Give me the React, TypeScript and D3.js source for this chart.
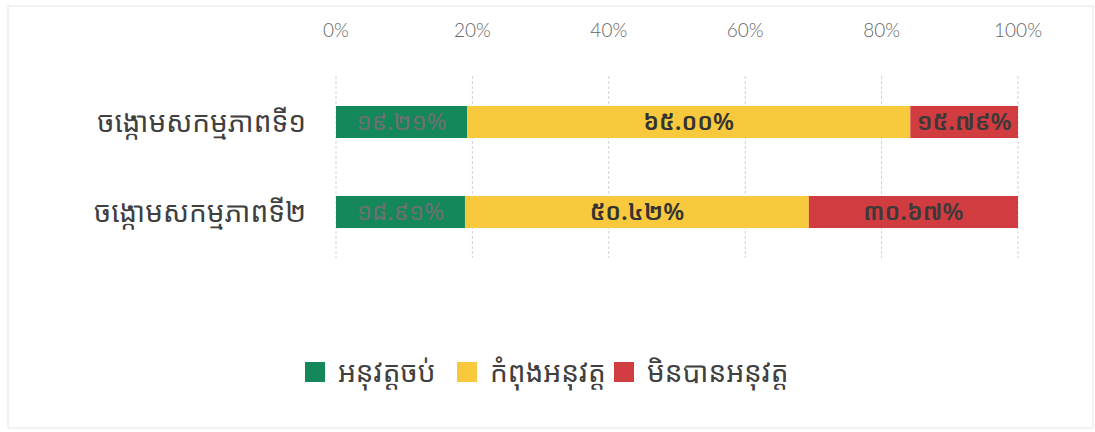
import React from 'react'
import * as d3 from 'd3'

// data
const categories = ['ចង្កោមសកម្មភាពទី១', 'ចង្កោមសកម្មភាពទី២']
const seriesNames = ['អនុវត្តចប់', 'កំពុងអនុវត្ត', 'មិនបានអនុវត្ត']
const done = [19.21, 18.91]
const inProgress = [65.0, 50.42]
const notDone = [15.79, 30.67]
const tickValues = [0, 20, 40, 60, 80, 100]

const colors = ['#14875b', '#f9c93d', '#d03c40']
const labelColors = ['#707070', '#333333', '#3a3a3a']

const khmerDigits = '០១២៣៤៥៦៧៨៩'
const toKhmer = (s: string) => s.replace(/[0-9]/g, d => khmerDigits[+d])

const W = 1095
const H = 432
const FONT = "'Noto Sans Khmer', 'Khmer OS', 'Khmer OS System', 'DejaVu Sans', sans-serif"

export default function App() {
  const x = d3.scaleLinear().domain([0, 100]).range([336, 1018])
  const y = d3.scaleBand<string>()
    .domain(categories)
    .range([76, 258])
    .paddingInner(0.644)
    .paddingOuter(0.333)

  const rows = categories.map((c, i) => ({ cat: c, done: done[i], inProgress: inProgress[i], notDone: notDone[i] }))
  const stack = d3.stack<any>().keys(['done', 'inProgress', 'notDone'])
  const layers = stack(rows)

  const legendX = [305, 457, 614]

  return (
    <svg width={W} height={H} style={{ position: 'absolute', left: 0, top: 0, background: '#fff' }}>
      <rect x={8} y={6} width={W - 10} height={H - 10} fill="#fff" stroke="#e6e6e6" />
      {/* grid */}
      {tickValues.map(t => (
        <g key={t}>
          <line x1={x(t)} x2={x(t)} y1={76} y2={258} stroke="#d2d2d2" strokeDasharray="3,2" />
          <text x={x(t)} y={37} textAnchor="middle" fontSize={19} fontWeight={300} fill="#666"
            fontFamily="Lato, 'Liberation Sans', Arial, sans-serif">{t}%</text>
        </g>
      ))}
      {/* bars */}
      {layers.map((layer, li) => (
        <g key={li}>
          {layer.map((d, i) => {
            const x0 = x(d[0])
            const x1 = x(d[1])
            const yy = y(categories[i]) as number
            const bw = y.bandwidth()
            const val = d[1] - d[0]
            return (
              <g key={i}>
                <rect x={x0} y={yy} width={x1 - x0} height={bw} fill={colors[li]} />
                <text x={(x0 + x1) / 2} y={yy + bw / 2} dy="0.35em" textAnchor="middle"
                  fontSize={24} fontWeight={li === 0 ? 'normal' : 600} fill={labelColors[li]}
                  fontFamily={FONT}>{toKhmer(val.toFixed(2))}%</text>
              </g>
            )
          })}
        </g>
      ))}
      {/* category labels */}
      {categories.map(c => (
        <text key={c} x={306} y={(y(c) as number) + y.bandwidth() / 2} dy="0.35em" textAnchor="end"
          fontSize={28} fill="#404040" fontFamily={FONT}>{c}</text>
      ))}
      {/* legend */}
      {seriesNames.map((s, i) => (
        <g key={s} transform={`translate(${legendX[i]},372)`}>
          <rect x={0} y={-10} width={20} height={20} fill={colors[i]} />
          <text x={33} y={0} dy="0.35em" fontSize={28} fill="#404040" fontFamily={FONT}>{s}</text>
        </g>
      ))}
    </svg>
  )
}
